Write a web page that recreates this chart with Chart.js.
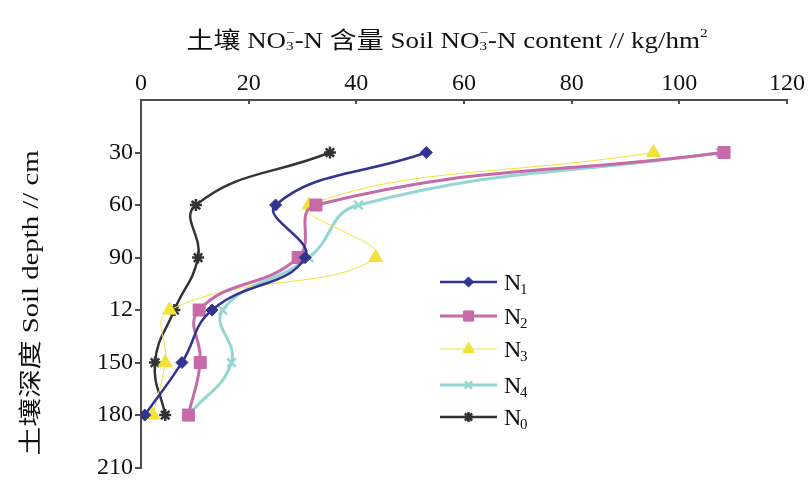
<!DOCTYPE html>
<html lang="zh-CN">
<head>
<meta charset="UTF-8" />
<title>Soil NO3-N content</title>
<script src="https://cdn.jsdelivr.net/npm/chart.js"></script>
<style>
  html, body { margin: 0; padding: 0; background: #fff; }
  #wrap { width: 809px; height: 484px; }
</style>
</head>
<body>
<div id="wrap"><canvas id="grafico"></canvas></div>
<script>
// depths (cm) and NO3-N content (kg/hm2) for each treatment
const depths = [30, 60, 90, 120, 150, 180];
const n1 = [53.0, 25.0, 30.5, 13.2, 7.6, 0.7];
const n2 = [108.3, 32.5, 29.2, 10.8, 11.0, 8.8];
const n3 = [95.2, 31.2, 43.6, 5.3, 4.5, 2.2];
const n4 = [107.6, 40.4, 31.2, 15.2, 16.8, 8.8];
const n0 = [35.1, 10.2, 10.6, 6.2, 2.6, 4.5];

const xTicks = [0, 20, 40, 60, 80, 100, 120];
const yTicks = [30, 60, 90, 120, 150, 180, 210];
const yTickLabels = ['30', '60', '90', '12', '150', '180', '210'];

const seriesNames = ['N1', 'N2', 'N3', 'N4', 'N0'];
const seriesValues = [n1, n2, n3, n4, n0];

const SERIF = '"Liberation Serif", "Noto Sans CJK SC", serif';

const estilos = [
  { color: '#33348f', width: 2.5, point: 'rectRot', radius: 6 },
  { color: '#c76aa9', width: 3, point: 'rect', radius: 8.5 },
  { color: '#f2e23a', width: 1, point: 'triangle', radius: 8 },
  { color: '#95d6d3', width: 3, point: 'crossRot', radius: 6 },
  { color: '#333333', width: 2.5, point: 'star', radius: 6 }
];

const datasets = seriesValues.map((vals, i) => ({
  label: seriesNames[i],
  data: depths.map((d, j) => ({ x: vals[j], y: d })),
  showLine: true,
  tension: 0.45,
  borderColor: estilos[i].color,
  backgroundColor: estilos[i].color,
  borderWidth: estilos[i].width,
  pointStyle: estilos[i].point,
  pointRadius: estilos[i].radius,
  pointBorderWidth: (estilos[i].point === 'crossRot' || estilos[i].point === 'star') ? 2.5 : 1,
  pointBorderColor: estilos[i].color,
  pointBackgroundColor: estilos[i].color
}));

// draws text pieces with sub/superscripts, squeezed to a given width
function drawRich(ctx, parts, size, targetW) {
  const big = size + 'px ' + SERIF;
  const small = Math.round(size * 0.55) + 'px ' + SERIF;
  let w = 0;
  parts.forEach(p => {
    ctx.font = p.k ? small : big;
    p.w = ctx.measureText(p.t).width;
    if (p.k === 'sub' && p.sup) {
      p.w = Math.max(p.w, ctx.measureText(p.sup).width);
    }
    w += p.w;
  });
  const sx = targetW / w;
  ctx.save();
  ctx.scale(sx, 1);
  let x = -w / 2;
  ctx.textBaseline = 'alphabetic';
  ctx.textAlign = 'left';
  parts.forEach(p => {
    if (!p.k) {
      ctx.font = big;
      ctx.fillText(p.t, x, size * 0.35);
    } else if (p.k === 'sub') {
      ctx.font = small;
      ctx.fillText(p.t, x, size * 0.45);
      if (p.sup) ctx.fillText(p.sup, x, -size * 0.15);
    } else {
      ctx.font = small;
      ctx.fillText(p.t, x, -size * 0.15);
    }
    x += p.w;
  });
  ctx.restore();
}

const extras = {
  id: 'extras',
  afterDraw(chart) {
    const ctx = chart.ctx;
    const xs = chart.scales.x;
    const area = chart.chartArea;
    ctx.save();
    // small inward tick marks on the top axis
    ctx.strokeStyle = '#4d4d4d';
    ctx.lineWidth = 2;
    xTicks.slice(1).forEach(v => {
      const px = Math.round(xs.getPixelForValue(v));
      ctx.beginPath();
      ctx.moveTo(px, area.top);
      ctx.lineTo(px, area.top + 4);
      ctx.stroke();
    });

    ctx.fillStyle = '#111';
    // top title
    ctx.save();
    ctx.translate(447, 40);
    drawRich(ctx, [
      { t: '土壤 NO' }, { t: '3', k: 'sub', sup: '−' }, { t: '-N 含量 Soil NO' },
      { t: '3', k: 'sub', sup: '−' }, { t: '-N content // kg/hm' }, { t: '2', k: 'sup' }
    ], 23, 521);
    ctx.restore();

    // left title
    ctx.save();
    ctx.translate(30, 303);
    ctx.rotate(-Math.PI / 2);
    drawRich(ctx, [{ t: '土壤深度 Soil depth // cm' }], 23, 305);
    ctx.restore();

    // legend
    const legY = [282, 316, 349, 385, 417];
    chart.data.datasets.forEach((ds, i) => {
      const y = legY[i];
      ctx.strokeStyle = ds.borderColor;
      ctx.fillStyle = ds.backgroundColor;
      ctx.lineWidth = ds.borderWidth;
      ctx.beginPath();
      ctx.moveTo(440, y);
      ctx.lineTo(497, y);
      ctx.stroke();
      ctx.lineWidth = ds.pointBorderWidth;
      Chart.helpers.drawPoint(ctx, {
        pointStyle: ds.pointStyle,
        radius: ds.pointRadius * 0.85,
        rotation: 0,
        borderWidth: ds.pointBorderWidth
      }, 468.5, y);
      ctx.fillStyle = '#111';
      ctx.font = '24px ' + SERIF;
      ctx.textBaseline = 'alphabetic';
      ctx.textAlign = 'left';
      ctx.fillText(ds.label[0], 504, y + 8);
      ctx.font = '15px ' + SERIF;
      ctx.fillText(ds.label.slice(1), 520, y + 12);
    });
    ctx.restore();
  }
};

new Chart(document.getElementById('grafico'), {
  type: 'scatter',
  data: { datasets: datasets },
  options: {
    responsive: true,
    maintainAspectRatio: false,
    animation: false,
    layout: { padding: { top: 0, left: 0, right: 22, bottom: 10 } },
    plugins: {
      legend: { display: false },
      tooltip: { enabled: false }
    },
    scales: {
      x: {
        position: 'top',
        min: 0,
        max: 120,
        afterBuildTicks: s => { s.ticks = xTicks.map(v => ({ value: v })); },
        afterFit: s => { s.height = 100; },
        grid: { drawOnChartArea: false, drawTicks: false },
        border: { color: '#4d4d4d', width: 2 },
        ticks: { color: '#111', padding: 2, font: { family: SERIF, size: 24 } }
      },
      y: {
        reverse: true,
        min: 0,
        max: 210,
        afterBuildTicks: s => { s.ticks = yTicks.map(v => ({ value: v })); },
        afterFit: s => { s.width = 141; },
        grid: { drawOnChartArea: false, tickLength: 6, color: '#4d4d4d', lineWidth: 2 },
        border: { color: '#4d4d4d', width: 2 },
        ticks: {
          color: '#111',
          padding: 2,
          font: { family: SERIF, size: 24 },
          callback: v => yTickLabels[yTicks.indexOf(v)]
        }
      }
    }
  },
  plugins: [extras]
});
</script>
</body>
</html>
